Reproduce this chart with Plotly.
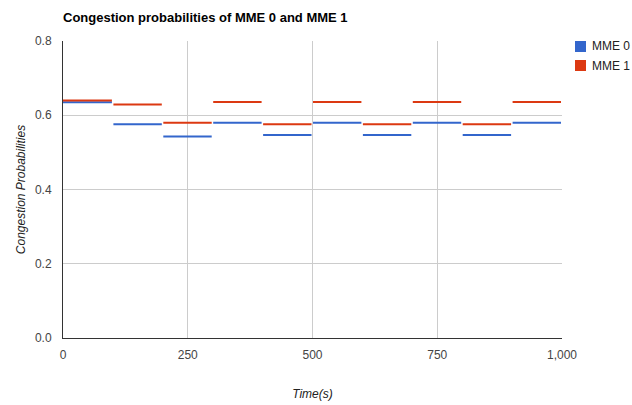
import plotly.graph_objects as go

# time intervals (s) of each congestion window
t_start = [0, 101, 201, 301, 401, 501, 601, 701, 801, 901]
t_end = [98, 198, 298, 398, 498, 598, 698, 798, 898, 998]

# congestion probability per window
mme0 = [0.635, 0.576, 0.543, 0.580, 0.547, 0.580, 0.547, 0.580, 0.547, 0.580]
mme1 = [0.640, 0.629, 0.580, 0.636, 0.576, 0.636, 0.576, 0.636, 0.576, 0.636]

series = [("MME 0", mme0, "#3366cc"), ("MME 1", mme1, "#dc3912")]

W, H = 632, 405
L, R, T, B = 63, 70, 41, 67


def steps(starts, ends, vals):
    # flat segment per window, broken by None
    xs, ys = [], []
    for a, b, v in zip(starts, ends, vals):
        xs += [a, b, None]
        ys += [v, v, None]
    return xs, ys


def px_x(p):
    return (p - L) / (W - L - R)


def px_y(p):
    return 1 - (p - T) / (H - T - B)


fig = go.Figure()
for name, vals, col in series:
    xs, ys = steps(t_start, t_end, vals)
    fig.add_trace(go.Scatter(x=xs, y=ys, mode="lines", name=name,
                             line=dict(color=col, width=2), showlegend=False))

# google-style legend: small square + label, tight spacing
for i, (name, vals, col) in enumerate(series):
    top = 41 + i * 19
    fig.add_shape(type="rect", xref="paper", yref="paper",
                  x0=px_x(575), x1=px_x(586), y0=px_y(top + 11), y1=px_y(top),
                  fillcolor=col, line_width=0)
    fig.add_annotation(xref="paper", yref="paper", x=px_x(590), y=px_y(top + 5.5),
                       xanchor="left", yanchor="middle", showarrow=False,
                       text=name, font=dict(size=12, color="#222"))

font = "Liberation Sans, Arial, sans-serif"
fig.update_layout(
    width=W, height=H,
    margin=dict(l=L, r=R, t=T, b=B, autoexpand=False),
    paper_bgcolor="white", plot_bgcolor="white",
    font=dict(family=font, size=12, color="#444"),
    showlegend=False,
    title=dict(text="<b>Congestion probabilities of MME 0 and MME 1</b>",
               x=63 / W, xanchor="left", y=1 - 17 / H, yanchor="middle",
               font=dict(size=13, color="#000")),
)
fig.update_xaxes(
    range=[0, 1000], tickvals=[0, 250, 500, 750, 1000], tickformat=",",
    showgrid=True, gridcolor="#cccccc", zeroline=False,
    showline=True, linecolor="#333", linewidth=1,
    ticks="", ticklabelstandoff=6, automargin=False,
    title=dict(text="<i>Time(s)</i>", font=dict(size=12, color="#222"), standoff=28),
)
fig.update_yaxes(
    range=[0, 0.8], dtick=0.2, tickformat=".1f",
    showgrid=True, gridcolor="#cccccc", zeroline=False,
    showline=True, linecolor="#333", linewidth=1,
    ticks="", ticklabelstandoff=8, automargin=False,
    title=dict(text="<i>Congestion Probabilities</i>", font=dict(size=12, color="#222"), standoff=6),
)

# drop the default page margin so the chart sits at the window corner
fig.write_html("out.html", config={"displayModeBar": False},
               post_script="document.body.style.margin='0';")
